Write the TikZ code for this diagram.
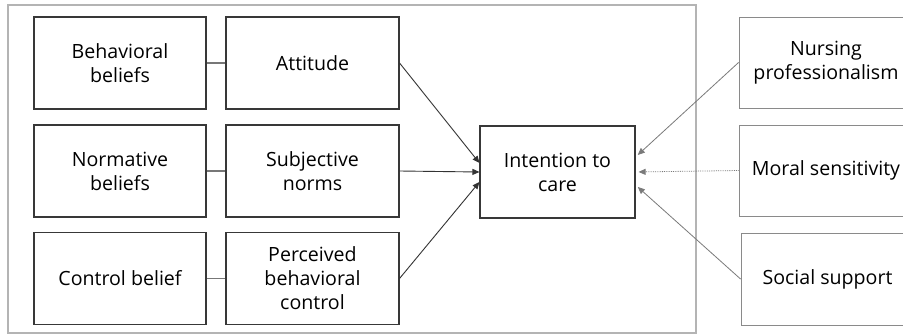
\documentclass[tikz,border=0pt]{standalone}
\usepackage{fontspec}
\setmainfont{Open Sans}
\usetikzlibrary{arrows.meta,calc}
\definecolor{boxc}{HTML}{383838}
\definecolor{rboxc}{HTML}{8A8A8A}
\definecolor{framec}{HTML}{B4B4B4}
\definecolor{linec}{HTML}{777777}
\definecolor{rlinec}{HTML}{7A7A7A}
\tikzset{
  box/.style={draw=boxc, line width=1.1pt, minimum width=#1, minimum height=92pt, align=center, inner sep=0pt,
    font=\fontsize{19.6}{24}\selectfont, text=black},
  box/.default=172pt,
  rbox/.style={box=#1, draw=rboxc, line width=0.9pt},
  link/.style={draw=linec, line width=1.2pt},
  arr/.style={draw=black!80, line width=0.9pt, -{Triangle[length=7pt,width=6pt]}},
  rarr/.style={draw=rlinec, line width=0.8pt, -{Triangle[length=7pt,width=6pt]}, shorten >=3pt},
}
\begin{document}
\begin{tikzpicture}[x=1pt,y=-1pt]
\clip (0,0) rectangle (903,335);
\fill[white] (0,0) rectangle (903,335);
\draw[framec, line width=1.3pt] (8,5) rectangle (696,333);
% left column
\node[box] (bb) at (120,63) {Behavioral\\beliefs};
\node[box] (nb) at (120,171) {Normative\\beliefs};
\node[box] (cb) at (120,278.5) {Control belief};
% middle column
\node[box=173pt] (at) at (312.5,63) {Attitude};
\node[box=173pt] (sn) at (312.5,171) {Subjective\\norms};
\node[box=173pt] (pbc) at (312.5,278.5) {Perceived\\behavioral\\control};
% intention
\node[box=155pt] (ic) at (557.5,172) {Intention to\\care};
% right column
\node[rbox=174pt, minimum height=91pt] (np) at (826,62.5) {Nursing\\professionalism};
\node[rbox=174pt, minimum height=91pt] (ms) at (826,170.5) {Moral sensitivity};
\node[rbox=173pt, minimum height=92pt] (ss) at (827.5,279) {Social support};
% links
\draw[link] (bb.east) -- (at.west);
\draw[link] (nb.east) -- (sn.west);
\draw[link] (cb.east) -- (pbc.west);
% arrows to intention
\draw[arr] (at.east) -- ($(ic.west)+(0,-9)$);
\draw[arr] (sn.east) -- (ic.west);
\draw[arr] (pbc.east) -- ($(ic.west)+(0,10)$);
\draw[rarr] (np.west) -- ($(ic.east)+(0,-15)$);
\draw[rarr, densely dotted] (ms.west) -- (ic.east);
\draw[rarr] (ss.west) -- ($(ic.east)+(0,13)$);
\end{tikzpicture}
\end{document}
